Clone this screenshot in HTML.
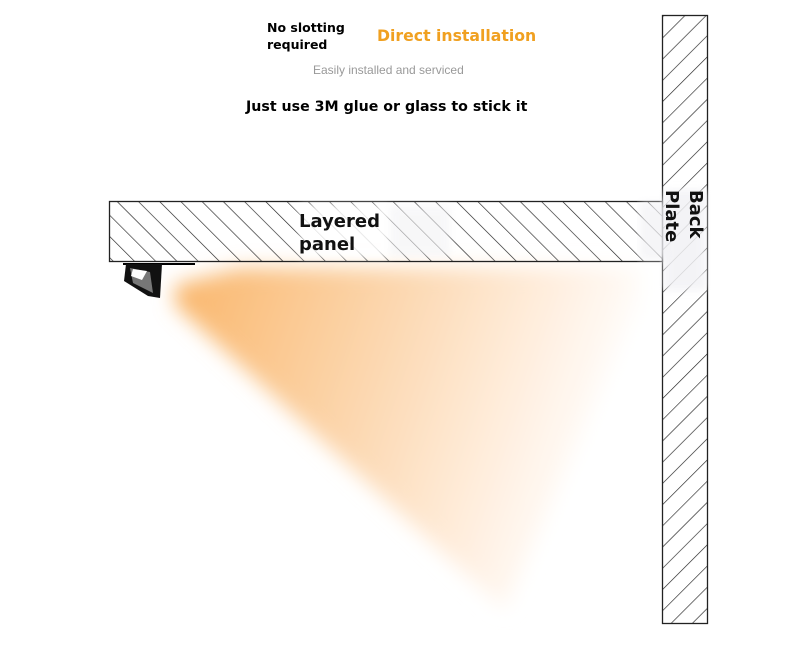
<!DOCTYPE html>
<html><head><style>
body{margin:0;background:#fff;width:800px;height:665px;overflow:hidden;font-family:"Liberation Sans",sans-serif}
</style></head><body>
<svg width="800" height="665" viewBox="0 0 800 665" xmlns="http://www.w3.org/2000/svg">
<defs>
<pattern id="h1" width="15" height="15" patternUnits="userSpaceOnUse" patternTransform="rotate(-45)">
<line x1="0" y1="0" x2="0" y2="15" stroke="#222" stroke-width="1.3"/></pattern>
<pattern id="h2" width="15" height="15" patternUnits="userSpaceOnUse" patternTransform="rotate(45)">
<line x1="0" y1="0" x2="0" y2="15" stroke="#222" stroke-width="1.3"/></pattern>
<linearGradient id="lg" x1="0" y1="0" x2="1" y2="0.25">
<stop offset="0" stop-color="#f9b66b"/><stop offset="0.45" stop-color="#fcd6ad"/><stop offset="0.8" stop-color="#fff0e2"/><stop offset="1" stop-color="#fff"/></linearGradient>
<filter id="bl" x="-20%" y="-20%" width="140%" height="140%"><feGaussianBlur stdDeviation="10"/></filter>
<filter id="bl2"><feGaussianBlur stdDeviation="4"/></filter>
</defs>
<polygon points="175,285 240,268 640,268 640,300 505,610 175,305" fill="url(#lg)" filter="url(#bl)"/>
<rect x="109.5" y="201.5" width="553" height="60" fill="url(#h1)" stroke="#222" stroke-width="1.3"/>
<rect x="662.5" y="15.5" width="45" height="608" fill="url(#h2)" stroke="#222" stroke-width="1.3"/>
<rect x="300" y="205" width="90" height="52" fill="#fff" opacity="0.85" filter="url(#bl2)"/>
<rect x="390" y="206" width="60" height="50" fill="#f3f3f5" opacity="0.6" filter="url(#bl2)"/>
<rect x="664" y="190" width="42" height="100" fill="#f2f2f5" opacity="0.85" filter="url(#bl2)"/>
<rect x="640" y="202" width="30" height="58" fill="#f2f2f5" opacity="0.7" filter="url(#bl2)"/>
<line x1="123" y1="264" x2="195" y2="264" stroke="#000" stroke-width="2"/>
<polygon points="126,264 162,264 160,298 148,296 124,281" fill="#111"/>
<polygon points="130,268 150,272 153,293 133,283" fill="#777"/>
<polygon points="133,269 147,271 142,280 131,276" fill="#fff"/>
<text x="299" y="227" font-size="18" font-weight="bold" font-family="DejaVu Sans,sans-serif" fill="#111">Layered</text>
<text x="299" y="250" font-size="18" font-weight="bold" font-family="DejaVu Sans,sans-serif" fill="#111">panel</text>
<text transform="translate(690,190) rotate(90)" font-size="18" font-weight="bold" font-family="DejaVu Sans,sans-serif" fill="#111">Back</text>
<text transform="translate(666,190) rotate(90)" font-size="18" font-weight="bold" font-family="DejaVu Sans,sans-serif" fill="#111">Plate</text>
<text x="267" y="32" font-size="12.5" font-weight="bold" font-family="DejaVu Sans,sans-serif" fill="#000">No slotting</text>
<text x="267" y="49" font-size="12.5" font-weight="bold" font-family="DejaVu Sans,sans-serif" fill="#000">required</text>
<text x="377" y="41" font-size="15.7" font-weight="bold" font-family="DejaVu Sans,sans-serif" fill="#f0a020">Direct installation</text>
<text x="313" y="74" font-size="12" fill="#999">Easily installed and serviced</text>
<text x="246" y="111" font-size="14.2" font-weight="bold" font-family="DejaVu Sans,sans-serif" fill="#000">Just use 3M glue or glass to stick it</text>
</svg>
</body></html>
